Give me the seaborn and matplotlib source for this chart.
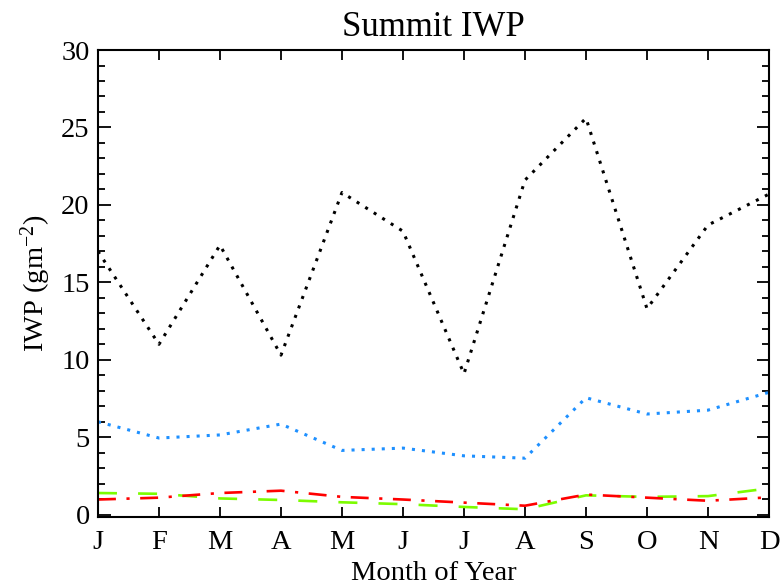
import matplotlib
matplotlib.use("Agg")
import matplotlib.pyplot as plt
import seaborn as sns
import numpy as np
from matplotlib.ticker import MultipleLocator

months = ['J', 'F', 'M', 'A', 'M', 'J', 'J', 'A', 'S', 'O', 'N', 'D']
black_iwp = [17.0, 11.0, 17.4, 10.3, 20.8, 18.3, 9.1, 21.6, 25.6, 13.3, 18.7, 20.7]
blue_iwp = [6.0, 4.95, 5.15, 5.85, 4.15, 4.3, 3.8, 3.65, 7.55, 6.5, 6.75, 7.9]
red_iwp = [0.98, 1.1, 1.4, 1.55, 1.15, 0.98, 0.78, 0.58, 1.3, 1.1, 0.9, 1.12]
green_iwp = [1.4, 1.35, 1.05, 0.95, 0.8, 0.68, 0.5, 0.35, 1.25, 1.15, 1.2, 1.7]

sns.set_style("ticks")
plt.rcParams['font.family'] = ['Liberation Serif', 'DejaVu Serif']
plt.rcParams['mathtext.fontset'] = 'custom'
plt.rcParams['mathtext.rm'] = 'Liberation Serif'
plt.rcParams['mathtext.it'] = 'Liberation Serif:italic'
for k in ['text.color', 'axes.labelcolor', 'xtick.color', 'ytick.color',
          'xtick.labelcolor', 'ytick.labelcolor']:
    plt.rcParams[k] = 'black'

fig = plt.figure(figsize=(7.8, 5.85), dpi=100)
ax = fig.add_axes([0.1256, 0.1162, 0.8603, 0.7983])

x = np.arange(len(months))
sns.lineplot(x=x, y=black_iwp, ax=ax, color='black', lw=2.2,
             linestyle=(0, (1, 2.3)))
sns.lineplot(x=x, y=blue_iwp, ax=ax, color='#1E90FF', lw=2.2,
             linestyle=(0, (1, 2.3)))
sns.lineplot(x=x, y=green_iwp, ax=ax, color='#7CFC00', lw=1.9,
             linestyle=(0, (7.2, 8)))
sns.lineplot(x=x, y=red_iwp, ax=ax, color='#FF0000', lw=1.9,
             linestyle=(0, (6.8, 4, 1.2, 4)))

ax.set_xlim(0, 11)
ax.set_ylim(-0.15, 30)
ax.set_xticks(x)
ax.set_xticklabels(months)
ax.yaxis.set_major_locator(MultipleLocator(5))
ax.yaxis.set_minor_locator(MultipleLocator(1))

ax.tick_params(axis='both', which='both', direction='in', top=True, right=True,
               color='black', width=1.3)
ax.tick_params(axis='x', which='major', length=7.5, pad=9, labelsize=20.5)
ax.tick_params(axis='y', which='major', length=9, pad=6, labelsize=20.5)
ax.tick_params(axis='y', which='minor', length=5)
ax.tick_params(axis='x', which='minor', bottom=False, top=False)
for s in ax.spines.values():
    s.set_linewidth(1.5)
    s.set_color('black')

ax.set_title('Summit IWP', fontsize=25, pad=10)
ax.set_xlabel('Month of Year', fontsize=20.5, labelpad=5)
ax.set_ylabel('IWP (gm$^{\\mathrm{-2}}$)', fontsize=20.5, labelpad=6)

fig.savefig('out.png', dpi=100)
